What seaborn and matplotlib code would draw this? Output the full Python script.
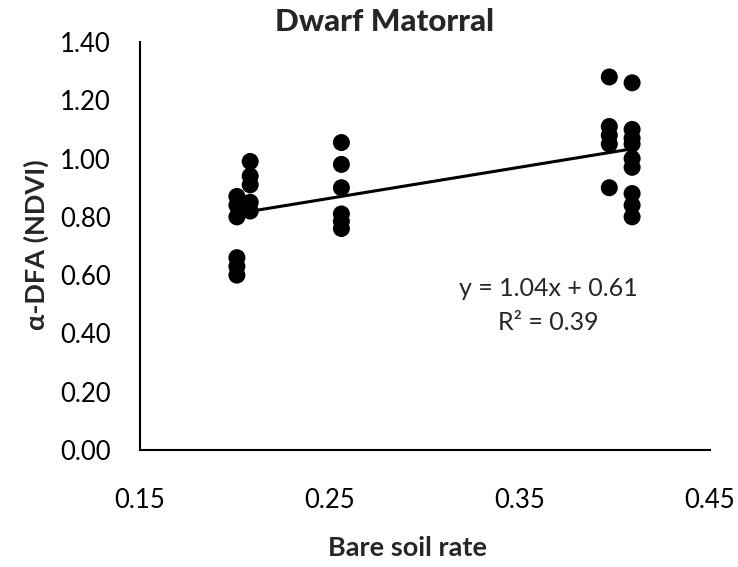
import matplotlib
matplotlib.use("Agg")
import matplotlib.pyplot as plt
import seaborn as sns
import pandas as pd
import numpy as np

bare_soil = [0.201]*6 + [0.208]*5 + [0.256]*6 + [0.397]*5 + [0.409]*9
alpha_dfa = [0.87, 0.84, 0.80, 0.66, 0.63, 0.60,
             0.99, 0.94, 0.91, 0.85, 0.82,
             1.055, 0.98, 0.90, 0.81, 0.785, 0.76,
             1.28, 1.11, 1.08, 1.05, 0.90,
             1.26, 1.10, 1.07, 1.05, 1.00, 0.97, 0.88, 0.84, 0.80]
x_ticks = [0.15, 0.25, 0.35, 0.45]
y_ticks = [0.0, 0.2, 0.4, 0.6, 0.8, 1.0, 1.2, 1.4]

df = pd.DataFrame({"x": bare_soil, "y": alpha_dfa})

sns.set_style("white")
plt.rcParams['font.family'] = ['Lato', 'DejaVu Sans']

fig = plt.figure(figsize=(7.38, 5.67), dpi=100)
ax = fig.add_axes([140/738, 1-450/567, 570/738, 408/567])

sns.regplot(data=df, x="x", y="y", ax=ax, ci=None, truncate=True,
            scatter_kws=dict(s=150, color="black", edgecolor="none", alpha=1),
            line_kws=dict(color="black", lw=2.2))

ax.set_xlim(0.15, 0.45)
ax.set_ylim(0, 1.4)
ax.set_xticks(x_ticks)
ax.set_yticks(y_ticks)
ax.set_xticklabels([f"{v:.2f}" for v in x_ticks], fontsize=18.5)
ax.set_yticklabels([f"{v:.2f}" for v in y_ticks], fontsize=18.5)
ax.tick_params(axis="both", direction="out", length=7, width=1.5, colors="black")
ax.tick_params(axis="x", pad=20)
ax.tick_params(axis="y", pad=14)
for s in ["top", "right"]:
    ax.spines[s].set_visible(False)
for s in ["left", "bottom"]:
    ax.spines[s].set_linewidth(1.5)
    ax.spines[s].set_color("black")
ax.set_xlabel("")
ax.set_ylabel("")

fig.text(385/738, 1-22/567, "Dwarf Matorral", ha="center", va="center",
         fontsize=22.5, fontweight="black")
fig.text(408/738, 1-548/567, "Bare soil rate", ha="center", va="center",
         fontsize=19.5, fontweight="bold")
fig.text(36/738, 1-245/567, "α-DFA (NDVI)", ha="center", va="center",
         rotation=90, fontsize=19.5, fontweight="bold")
ax.text(548/738, 1-288/567, "y = 1.04x + 0.61", transform=fig.transFigure,
        ha="center", va="center", fontsize=18)
ax.text(548/738, 1-322/567, "R² = 0.39", transform=fig.transFigure,
        ha="center", va="center", fontsize=18)

fig.savefig("out.png", dpi=100)
